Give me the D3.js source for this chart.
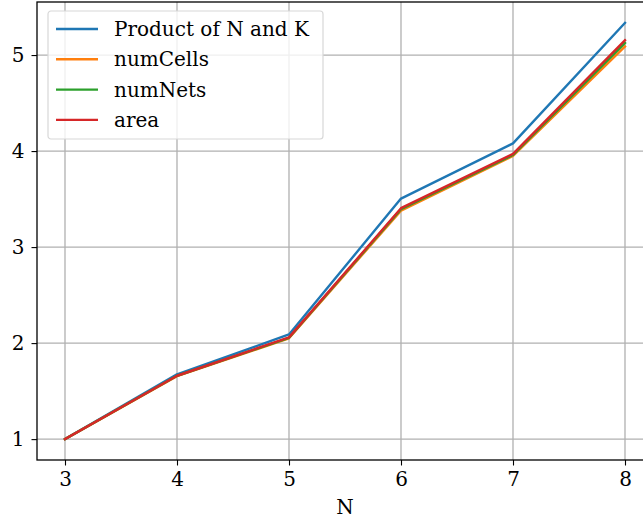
<!DOCTYPE html>
<html>
<head>
<meta charset="utf-8">
<script src="https://cdn.jsdelivr.net/npm/d3@7"></script>
<style>
  html, body { margin: 0; padding: 0; background: #fff; }
  svg { display: block; font-family: "DejaVu Serif", serif; }
</style>
</head>
<body>
<div id="chart"></div>
<script>
// x values
var nValues = [3, 4, 5, 6, 7, 8];

// series values (normalised to N=3)
var productNK = [1, 1.675, 2.09, 3.505, 4.08, 5.335];
var numCells  = [1, 1.655, 2.05, 3.38, 3.95, 5.09];
var numNets   = [1, 1.66, 2.055, 3.395, 3.96, 5.125];
var areaVals  = [1, 1.66, 2.06, 3.405, 3.97, 5.155];

var seriesNames = ['Product of N and K', 'numCells', 'numNets', 'area'];
var seriesColors = ['#1f77b4', '#ff7f0e', '#2ca02c', '#d62728'];
var seriesData = [productNK, numCells, numNets, areaVals];

var xTicks = [3, 4, 5, 6, 7, 8];
var yTicks = [1, 2, 3, 4, 5];

var w = 643, h = 519;
var margin = { top: 2, right: -10, bottom: 59, left: 37 };
var width = w - margin.left - margin.right;
var height = h - margin.top - margin.bottom;
var fontSize = '20px';

var svg = d3.select('#chart').append('svg')
    .attr('width', w).attr('height', h);

var g = svg.append('g')
    .attr('transform', 'translate(' + margin.left + ',' + margin.top + ')');

var xScale = d3.scaleLinear().domain([2.75, 8.25]).range([0, width]);
var yScale = d3.scaleLinear().domain([0.7825, 5.5525]).range([height, 0]);

// grid
g.append('g').selectAll('line.gx')
    .data(xTicks).enter().append('line')
    .attr('x1', function (d) { return xScale(d); })
    .attr('x2', function (d) { return xScale(d); })
    .attr('y1', 0).attr('y2', height)
    .attr('stroke', '#b0b0b0').attr('stroke-width', 1.3);
g.append('g').selectAll('line.gy')
    .data(yTicks).enter().append('line')
    .attr('y1', function (d) { return yScale(d); })
    .attr('y2', function (d) { return yScale(d); })
    .attr('x1', 0).attr('x2', width)
    .attr('stroke', '#b0b0b0').attr('stroke-width', 1.3);

// lines
var line = d3.line()
    .x(function (d, i) { return xScale(nValues[i]); })
    .y(function (d) { return yScale(d); });

seriesData.forEach(function (s, i) {
    g.append('path')
        .datum(s)
        .attr('fill', 'none')
        .attr('stroke', seriesColors[i])
        .attr('stroke-width', 2.4)
        .attr('stroke-linejoin', 'round')
        .attr('stroke-linecap', 'square')
        .attr('d', line);
});

// axes
var xAxis = g.append('g')
    .attr('transform', 'translate(0,' + height + ')')
    .call(d3.axisBottom(xScale).tickValues(xTicks).tickSize(5.5).tickPadding(6).tickFormat(d3.format('d')));
var yAxis = g.append('g')
    .call(d3.axisLeft(yScale).tickValues(yTicks).tickSize(5.5).tickPadding(7).tickFormat(d3.format('d')));
[xAxis, yAxis].forEach(function (a) {
    a.select('.domain').remove();
    a.selectAll('line').attr('stroke', '#000').attr('stroke-width', 1.1);
    a.selectAll('text').attr('fill', '#000')
        .style('font-family', '"DejaVu Serif", serif').style('font-size', fontSize);
});

// frame
g.append('rect')
    .attr('x', 0).attr('y', 0).attr('width', width).attr('height', height)
    .attr('fill', 'none').attr('stroke', '#000').attr('stroke-width', 1.3);

// x label
g.append('text')
    .attr('x', width / 2).attr('y', height + 54)
    .attr('text-anchor', 'middle')
    .style('font-size', fontSize)
    .text('N');

// legend
var legend = g.append('g').attr('transform', 'translate(11,9)');
legend.append('rect')
    .attr('width', 275).attr('height', 128).attr('rx', 3)
    .attr('fill', '#fff').attr('fill-opacity', 0.8)
    .attr('stroke', '#d8d8d8').attr('stroke-width', 1.2);
seriesNames.forEach(function (name, i) {
    var y = 18 + i * 30.3;
    legend.append('line')
        .attr('x1', 8).attr('x2', 50).attr('y1', y).attr('y2', y)
        .attr('stroke', seriesColors[i]).attr('stroke-width', 2.4);
    legend.append('text')
        .attr('x', 66).attr('y', y).attr('dy', '0.35em')
        .style('font-size', fontSize)
        .text(name);
});
</script>
</body>
</html>
